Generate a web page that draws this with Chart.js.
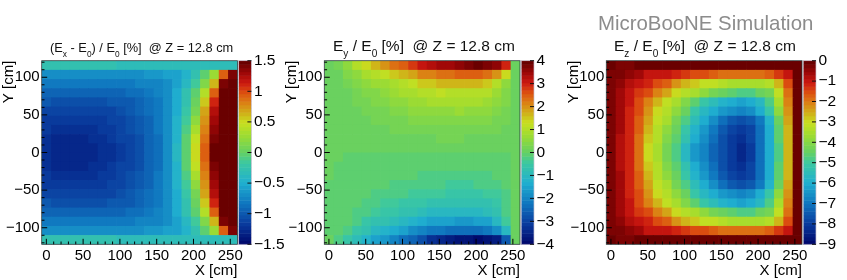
<!DOCTYPE html>
<html>
<head>
<meta charset="utf-8">
<title>E field distortions at Z = 12.8 cm</title>
<script src="https://cdn.jsdelivr.net/npm/chart.js@4"></script>
<style>
  html, body { margin: 0; padding: 0; background: #fff; }
  #page { position: relative; width: 847px; height: 280px; overflow: hidden; font-family: "Liberation Sans", sans-serif; filter: blur(0.35px); background: #fff; }
  canvas { position: absolute; top: 0; }
  .title { position: absolute; white-space: pre; color: #111; line-height: 1; }
  .title sub { line-height: 0; font-size: 65%; vertical-align: -0.6em; }
  #sim { position: absolute; left: 598px; top: 13px; font-size: 20.4px; color: #8c8c8c; white-space: pre; line-height: 1; }
</style>
</head>
<body>
<div id="page">
  <canvas id="ex" width="290" height="280" style="left:0"></canvas>
  <canvas id="ey" width="290" height="280" style="left:283px"></canvas>
  <canvas id="ez" width="290" height="280" style="left:565px"></canvas>
  <div class="title" style="left:50px;top:42px;font-size:12.8px">(E<sub>x</sub> - E<sub>0</sub>) / E<sub>0</sub> [%]  @ Z = 12.8 cm</div>
  <div class="title" style="left:333px;top:38px;font-size:15.5px">E<sub>y</sub> / E<sub>0</sub> [%]  @ Z = 12.8 cm</div>
  <div class="title" style="left:614px;top:38px;font-size:15.5px">E<sub>z</sub> / E<sub>0</sub> [%]  @ Z = 12.8 cm</div>
  <div id="sim">MicroBooNE Simulation</div>
</div>
<script>
// bin edges in cm
const xEdges = [-6.3, 6.4, 19, 31.7, 44.4, 57, 69.7, 82.4, 95, 107.7, 120.4, 133, 145.7, 158.4, 171, 183.7, 196.4, 209, 221.7, 234.4, 247, 259.7]
const yEdges = [122, 109.8, 97.6, 85.4, 73.2, 61, 48.8, 36.6, 24.4, 12.2, 0, -12.2, -24.4, -36.6, -48.8, -61, -73.2, -85.4, -97.6, -109.8, -122]

// palette, fraction of the z range -> colour
const paletteFractions = [0, 0.111, 0.222, 0.333, 0.444, 0.5, 0.556, 0.6, 0.667, 0.72, 0.778, 0.833, 0.889, 0.94, 1]
const paletteColors = ['#000a6e', '#0a3ea0', '#1078c0', '#20b0d0', '#3cc8a0', '#64d064', '#84d846', '#a0dc30', '#c8e020', '#d0b018', '#dc8014', '#dc5010', '#cc1810', '#a00808', '#6a0000']

const exTicks = [-1.5, -1, -0.5, 0, 0.5, 1, 1.5]
const eyTicks = [-4, -3, -2, -1, 0, 1, 2, 3, 4]
const ezTicks = [-9, -8, -7, -6, -5, -4, -3, -2, -1, 0]

// rows run from the top of the detector to the bottom
const exValues = [
  [-.3,-.3,-.3,-.3,-.3,-.3,-.3,-.3,-.31,-.31,-.31,-.32,-.33,-.34,-.35,-.35,-.34,-.33,-.32,-.31,-.31],
  [-.68,-.68,-.68,-.68,-.68,-.68,-.68,-.68,-.67,-.67,-.66,-.65,-.63,-.6,-.55,-.45,-.25,-.05,.25,.95,1.4],
  [-.8,-.82,-.82,-.82,-.82,-.82,-.81,-.8,-.8,-.79,-.78,-.76,-.73,-.68,-.6,-.42,-.15,.15,.65,1.4,1.5],
  [-.93,-.95,-.96,-.96,-.96,-.95,-.94,-.93,-.92,-.9,-.86,-.82,-.76,-.67,-.52,-.3,-.05,.4,.95,1.45,1.5],
  [-1.02,-1.04,-1.05,-1.05,-1.05,-1.04,-1.03,-1.02,-1,-.97,-.92,-.87,-.8,-.7,-.5,-.25,.05,.55,1.1,1.5,1.5],
  [-1.08,-1.12,-1.13,-1.13,-1.12,-1.11,-1.1,-1.08,-1.05,-1.01,-.96,-.9,-.82,-.7,-.5,-.2,.1,.68,1.2,1.5,1.5],
  [-1.15,-1.18,-1.19,-1.19,-1.18,-1.17,-1.15,-1.13,-1.09,-1.04,-.99,-.92,-.83,-.69,-.48,-.16,.22,.75,1.3,1.5,1.5],
  [-1.2,-1.23,-1.24,-1.24,-1.23,-1.22,-1.2,-1.17,-1.12,-1.07,-1.01,-.94,-.84,-.68,-.45,-.1,.32,.82,1.37,1.5,1.5],
  [-1.24,-1.27,-1.28,-1.28,-1.27,-1.25,-1.23,-1.2,-1.14,-1.09,-1.03,-.95,-.85,-.67,-.43,-.05,.42,.88,1.43,1.5,1.5],
  [-1.26,-1.29,-1.3,-1.3,-1.29,-1.27,-1.25,-1.22,-1.15,-1.1,-1.04,-.96,-.85,-.66,-.42,-.02,.48,.9,1.47,1.5,1.5],
  [-1.26,-1.29,-1.3,-1.3,-1.29,-1.27,-1.25,-1.22,-1.15,-1.1,-1.04,-.96,-.85,-.66,-.42,-.02,.48,.91,1.47,1.5,1.5],
  [-1.24,-1.27,-1.28,-1.28,-1.27,-1.25,-1.23,-1.2,-1.14,-1.09,-1.03,-.95,-.85,-.67,-.43,-.05,.43,.88,1.43,1.5,1.5],
  [-1.2,-1.23,-1.24,-1.24,-1.23,-1.22,-1.2,-1.17,-1.12,-1.07,-1.01,-.94,-.84,-.68,-.45,-.1,.33,.82,1.37,1.5,1.5],
  [-1.15,-1.18,-1.19,-1.19,-1.18,-1.17,-1.15,-1.13,-1.09,-1.04,-.99,-.92,-.83,-.69,-.48,-.16,.22,.75,1.3,1.5,1.5],
  [-1.08,-1.12,-1.13,-1.13,-1.12,-1.11,-1.1,-1.08,-1.05,-1.01,-.96,-.9,-.82,-.7,-.5,-.2,.1,.68,1.2,1.5,1.5],
  [-1.02,-1.04,-1.05,-1.05,-1.05,-1.04,-1.03,-1.02,-1,-.97,-.92,-.87,-.8,-.7,-.5,-.25,.05,.55,1.1,1.5,1.5],
  [-.93,-.95,-.96,-.96,-.96,-.95,-.94,-.93,-.92,-.9,-.86,-.82,-.76,-.67,-.52,-.3,-.05,.4,.95,1.45,1.5],
  [-.8,-.82,-.82,-.82,-.82,-.82,-.81,-.8,-.8,-.79,-.78,-.76,-.73,-.68,-.6,-.42,-.15,.15,.65,1.4,1.5],
  [-.68,-.68,-.68,-.68,-.68,-.68,-.68,-.68,-.67,-.67,-.66,-.65,-.63,-.6,-.55,-.45,-.25,-.05,.25,.95,1.4],
  [-.3,-.3,-.3,-.3,-.3,-.3,-.3,-.3,-.31,-.31,-.31,-.32,-.33,-.34,-.35,-.35,-.34,-.33,-.32,-.31,-.31],
]

const eyValues = [
  [0,.2,.6,1,1.4,1.7,2,2.3,2.55,2.8,3.05,3.2,3.4,3.5,3.65,3.8,3.9,3.8,3.55,2.9,.1],
  [.05,.15,.35,.6,.85,1.05,1.2,1.5,1.65,1.85,2.1,2.2,2.3,2.35,2.4,2.45,2.4,2.3,2.05,1.3,.1],
  [.05,.1,.2,.35,.5,.65,.75,.9,1.05,1.2,1.45,1.5,1.6,1.7,1.7,1.75,1.65,1.5,1.05,.55,.1],
  [.05,.08,.15,.25,.35,.45,.6,.7,.8,.9,1,1.1,1.15,1.1,1.1,1.1,1.1,1,.75,.4,.1],
  [.05,.07,.12,.2,.25,.33,.42,.5,.55,.65,.7,.8,.85,.9,.9,.9,.85,.75,.55,.35,.1],
  [.03,.05,.1,.15,.2,.25,.3,.38,.42,.48,.52,.55,.6,.62,.65,.62,.6,.52,.42,.25,.1],
  [.02,.05,.08,.1,.15,.2,.22,.25,.3,.33,.38,.4,.42,.45,.45,.45,.42,.38,.3,.2,.1],
  [.02,.03,.05,.08,.1,.12,.15,.18,.2,.22,.25,.28,.3,.3,.3,.3,.28,.25,.2,.15,.1],
  [0,.02,.03,.05,.06,.07,.08,.1,.12,.13,.15,.15,.16,.16,.16,.15,.15,.13,.1,.08,.1],
  [0,0,.01,.02,.02,.03,.03,.04,.04,.05,.05,.05,.05,.05,.05,.05,.05,.04,.03,.03,.1],
  [0,0,-.01,-.01,-.02,-.02,-.02,-.03,-.03,-.03,-.04,-.04,-.04,-.04,-.04,-.04,-.04,-.03,-.03,-.02,.1],
  [0,-.01,-.02,-.03,-.04,-.05,-.06,-.07,-.08,-.09,-.1,-.1,-.11,-.11,-.11,-.11,-.1,-.09,-.07,-.05,.1],
  [0,-.02,-.03,-.05,-.06,-.08,-.1,-.12,-.14,-.16,-.18,-.19,-.2,-.2,-.2,-.2,-.2,-.18,-.14,-.09,.1],
  [-.01,-.02,-.04,-.07,-.1,-.12,-.15,-.18,-.22,-.25,-.28,-.3,-.32,-.33,-.33,-.33,-.32,-.28,-.22,-.14,.1],
  [-.01,-.03,-.06,-.1,-.14,-.18,-.23,-.28,-.32,-.36,-.42,-.45,-.48,-.5,-.52,-.52,-.5,-.45,-.36,-.2,.1],
  [-.02,-.04,-.08,-.14,-.2,-.26,-.33,-.42,-.5,-.56,-.62,-.68,-.72,-.76,-.78,-.78,-.75,-.68,-.55,-.3,.1],
  [-.02,-.05,-.1,-.2,-.3,-.4,-.5,-.62,-.72,-.8,-.9,-.98,-1.02,-1.05,-1.08,-1.08,-1.03,-.95,-.75,-.3,.1],
  [-.02,-.07,-.15,-.3,-.5,-.65,-.8,-.95,-1.1,-1.2,-1.35,-1.45,-1.55,-1.6,-1.65,-1.65,-1.6,-1.5,-1.1,-.35,.1],
  [-.02,-.1,-.25,-.5,-.75,-1,-1.2,-1.4,-1.6,-1.8,-2,-2.1,-2.2,-2.3,-2.35,-2.35,-2.3,-2.2,-1.8,-1.1,.1],
  [0,-.2,-.55,-.9,-1.15,-1.45,-1.75,-2,-2.3,-2.55,-2.85,-3.2,-3.4,-3.55,-3.7,-3.8,-3.9,-3.8,-3.6,-2.7,.1],
]

const ezValues = [
  [-.15,-.2,-.2,-.15,-.15,-.15,-.15,-.1,-.1,-.1,-.1,-.1,-.1,-.1,-.1,-.1,-.1,-.1,-.15,-.15,-.15],
  [-.2,-.35,-.5,-.7,-.95,-1.05,-1,-1.1,-1.3,-1.45,-1.6,-1.8,-1.9,-1.95,-1.95,-1.95,-1.9,-1.75,-1.3,-.95,-.15],
  [-.2,-.5,-.8,-1,-1.25,-1.5,-1.8,-2.2,-2.55,-2.85,-3.1,-3.2,-3.35,-3.5,-3.55,-3.55,-3.5,-3.3,-2.55,-1.5,-.15],
  [-.2,-.6,-1,-1.3,-1.6,-2,-2.5,-3,-3.3,-3.6,-3.9,-4.2,-4.4,-4.6,-4.75,-4.7,-4.5,-4.2,-3.2,-1.9,-.15],
  [-.2,-.65,-1.05,-1.5,-2.1,-2.6,-3.2,-3.6,-4.1,-4.65,-5.1,-5.5,-5.9,-6.1,-6.15,-6,-5.6,-4.7,-3.5,-2.1,-.15],
  [-.2,-.7,-1.1,-1.6,-2.3,-2.9,-3.3,-3.85,-4.5,-5.05,-5.6,-6,-6.4,-6.65,-6.75,-6.6,-6.1,-5.2,-3.9,-2.3,-.15],
  [-.2,-.7,-1.15,-1.7,-2.5,-3.1,-3.6,-4.2,-4.85,-5.5,-6.05,-6.5,-7.1,-7.5,-7.65,-7.5,-7,-5.9,-4.4,-2.5,-.15],
  [-.2,-.72,-1.2,-1.8,-2.7,-3.25,-3.85,-4.45,-5.15,-5.85,-6.35,-6.85,-7.45,-7.85,-7.95,-7.8,-7.2,-6.05,-4.55,-2.55,-.15],
  [-.2,-.75,-1.25,-1.85,-2.85,-3.4,-4.05,-4.65,-5.4,-6.1,-6.6,-7.1,-7.6,-8,-8.15,-7.9,-7.2,-6.1,-4.65,-2.65,-.15],
  [-.2,-.75,-1.25,-1.9,-2.95,-3.5,-4.2,-4.8,-5.65,-6.35,-6.8,-7.3,-7.7,-8.1,-8.3,-7.95,-7.2,-6.1,-4.7,-2.7,-.15],
  [-.2,-.75,-1.25,-1.9,-2.95,-3.5,-4.2,-4.8,-5.65,-6.35,-6.8,-7.3,-7.7,-8.1,-8.3,-7.95,-7.2,-6.1,-4.7,-2.7,-.15],
  [-.2,-.75,-1.25,-1.85,-2.85,-3.4,-4.05,-4.65,-5.4,-6.1,-6.6,-7.1,-7.6,-8,-8.15,-7.9,-7.2,-6.1,-4.65,-2.65,-.15],
  [-.2,-.72,-1.2,-1.8,-2.7,-3.25,-3.85,-4.45,-5.15,-5.85,-6.35,-6.85,-7.45,-7.85,-7.95,-7.8,-7.2,-6.05,-4.55,-2.55,-.15],
  [-.2,-.7,-1.15,-1.7,-2.5,-3.1,-3.6,-4.2,-4.85,-5.5,-6.05,-6.5,-7.1,-7.5,-7.65,-7.5,-7,-5.9,-4.4,-2.5,-.15],
  [-.2,-.7,-1.1,-1.6,-2.3,-2.9,-3.3,-3.85,-4.5,-5.05,-5.6,-6,-6.4,-6.65,-6.75,-6.6,-6.1,-5.2,-3.9,-2.3,-.15],
  [-.2,-.65,-1.05,-1.5,-2.1,-2.6,-3.2,-3.6,-4.1,-4.65,-5.1,-5.5,-5.9,-6.1,-6.15,-6,-5.6,-4.7,-3.5,-2.1,-.15],
  [-.2,-.6,-1,-1.3,-1.6,-2,-2.5,-3,-3.3,-3.6,-3.9,-4.2,-4.4,-4.6,-4.75,-4.7,-4.5,-4.2,-3.2,-1.9,-.15],
  [-.2,-.5,-.8,-1,-1.25,-1.5,-1.8,-2.2,-2.55,-2.85,-3.1,-3.2,-3.35,-3.5,-3.55,-3.55,-3.5,-3.3,-2.55,-1.5,-.15],
  [-.2,-.35,-.5,-.7,-.95,-1.05,-1,-1.1,-1.3,-1.45,-1.6,-1.8,-1.9,-1.95,-1.95,-1.95,-1.9,-1.75,-1.3,-.95,-.15],
  [-.15,-.2,-.2,-.15,-.15,-.15,-.15,-.1,-.1,-.1,-.1,-.1,-.1,-.1,-.1,-.1,-.1,-.1,-.15,-.15,-.15],
]

const FONT = 'Liberation Sans'
const LEVELS = 50
const CANVAS_WIDTH = 290

function hexToRgb(h) {
  return [1, 3, 5].map(i => parseInt(h.slice(i, i + 2), 16))
}

// colour for a fraction of the z range, stepped like the ROOT palette
function paletteColor(frac) {
  const f = Math.min(Math.floor(frac * LEVELS), LEVELS - 1) / (LEVELS - 1)
  let i = 0
  while (i < paletteFractions.length - 2 && f > paletteFractions[i + 1]) i++
  const t = (f - paletteFractions[i]) / (paletteFractions[i + 1] - paletteFractions[i])
  const a = hexToRgb(paletteColors[i])
  const b = hexToRgb(paletteColors[i + 1])
  const c = a.map((v, k) => Math.round(v + (b[k] - v) * t))
  return `rgb(${c[0]},${c[1]},${c[2]})`
}

function minusText(v) {
  const r = Math.round(v * 10) / 10
  return r < 0 ? '\u2212' + Math.abs(r) : String(r)
}

// paints the cells and the palette through the chart's scales
const heatmapPlugin = {
  id: 'heatmap',
  beforeDatasetsDraw(chart) {
    const {ctx, chartArea, scales: {x, y, z}} = chart
    const values = chart.data.datasets[0].rows
    ctx.save()
    ctx.beginPath()
    ctx.rect(chartArea.left, chartArea.top, chartArea.width, chartArea.height)
    ctx.clip()
    values.forEach((row, j) => {
      row.forEach((v, i) => {
        const left = x.getPixelForValue(xEdges[i])
        const right = x.getPixelForValue(xEdges[i + 1])
        const top = y.getPixelForValue(yEdges[j])
        const bottom = y.getPixelForValue(yEdges[j + 1])
        ctx.fillStyle = paletteColor((v - z.min) / (z.max - z.min))
        // small overlap, the seams stay only very faint
        ctx.fillRect(left, top, right - left + 0.7, bottom - top + 0.7)
      })
    })
    ctx.restore()
  },
  afterDraw(chart) {
    const {ctx, chartArea, scales: {x, y, z}} = chart
    ctx.save()

    // palette bar
    const barLeft = z.left + 1.2
    const barWidth = 12.8
    for (let k = 0; k < LEVELS; k++) {
      const lo = z.min + (z.max - z.min) * k / LEVELS
      const hi = z.min + (z.max - z.min) * (k + 1) / LEVELS
      ctx.fillStyle = paletteColor((k + 0.5) / LEVELS)
      ctx.fillRect(barLeft, z.getPixelForValue(hi), barWidth, z.getPixelForValue(lo) - z.getPixelForValue(hi) + 0.5)
    }
    ctx.strokeStyle = '#c8c2d2'
    ctx.lineWidth = 0.7
    ctx.strokeRect(barLeft, z.top, barWidth, z.bottom - z.top)

    // palette ticks point inwards from the right edge
    ctx.strokeStyle = '#111'
    ctx.lineWidth = 1
    z.ticks.forEach(t => {
      const py = z.getPixelForValue(t.value)
      ctx.beginPath()
      ctx.moveTo(barLeft + barWidth, py)
      ctx.lineTo(barLeft + barWidth - 4, py)
      ctx.stroke()
    })

    // frame
    ctx.strokeStyle = '#2b3a3c'
    ctx.lineWidth = 0.8
    ctx.strokeRect(chartArea.left, chartArea.top, chartArea.width, chartArea.height)

    // inward ticks on the bottom and left only
    ctx.strokeStyle = '#000'
    ctx.lineWidth = 1
    x.ticks.forEach(t => {
      const px = x.getPixelForValue(t.value)
      const len = t.value % 50 === 0 ? 5.5 : 2.8
      ctx.beginPath()
      ctx.moveTo(px, chartArea.bottom)
      ctx.lineTo(px, chartArea.bottom - len)
      ctx.stroke()
    })
    y.ticks.forEach(t => {
      const py = y.getPixelForValue(t.value)
      const len = t.value % 50 === 0 ? 5.5 : 2.8
      ctx.beginPath()
      ctx.moveTo(chartArea.left, py)
      ctx.lineTo(chartArea.left + len, py)
      ctx.stroke()
    })
    ctx.restore()
  },
}

function drawPanel(id, rows, zTicks, leftWidth) {
  const points = []
  rows.forEach((row, j) => row.forEach((v, i) => {
    points.push({x: (xEdges[i] + xEdges[i + 1]) / 2, y: (yEdges[j] + yEdges[j + 1]) / 2, v})
  }))

  new Chart(document.getElementById(id), {
    type: 'scatter',
    data: {datasets: [{data: points, rows, pointRadius: 0, pointHoverRadius: 0}]},
    plugins: [heatmapPlugin],
    options: {
      responsive: false,
      animation: false,
      layout: {padding: {top: 60.7, left: 0, right: 0, bottom: 0}},
      plugins: {legend: {display: false}, tooltip: {enabled: false}, title: {display: false}},
      scales: {
        x: {
          type: 'linear',
          min: xEdges[0],
          max: xEdges[xEdges.length - 1],
          grid: {display: false, drawTicks: false},
          border: {display: false},
          ticks: {
            stepSize: 10,
            includeBounds: false,
            autoSkip: false,
            maxRotation: 0,
            minRotation: 0,
            padding: 3,
            color: '#000',
            font: {family: FONT, size: 15},
            callback: v => (v % 50 === 0 ? minusText(v) : ''),
          },
          title: {display: true, text: 'X [cm]', align: 'end', color: '#000', padding: 0, font: {family: FONT, size: 15}},
          afterFit(s) { s.height = 35.7 },
        },
        y: {
          type: 'linear',
          min: yEdges[yEdges.length - 1],
          max: yEdges[0],
          grid: {display: false, drawTicks: false},
          border: {display: false},
          ticks: {
            stepSize: 10,
            includeBounds: false,
            autoSkip: false,
            padding: 2,
            color: '#000',
            font: {family: FONT, size: 15},
            callback: v => (v % 50 === 0 ? minusText(v) : ''),
          },
          title: {display: true, text: 'Y [cm]', align: 'end', color: '#000', padding: 0, font: {family: FONT, size: 15}},
          afterFit(s) { s.width = leftWidth },
        },
        z: {
          type: 'linear',
          axis: 'y',
          position: 'right',
          min: zTicks[0],
          max: zTicks[zTicks.length - 1],
          grid: {display: false, drawTicks: false},
          border: {display: false},
          afterBuildTicks(s) { s.ticks = zTicks.map(value => ({value})) },
          ticks: {
            autoSkip: false,
            padding: 16.5,
            color: '#000',
            font: {family: FONT, size: 15.5},
            callback: v => minusText(v),
          },
          afterFit(s) { s.width = CANVAS_WIDTH - leftWidth - 195.7 },
        },
      },
    },
  })
}

drawPanel('ex', exValues, exTicks, 41.7)
drawPanel('ey', eyValues, eyTicks, 41.3)
drawPanel('ez', ezValues, ezTicks, 41.3)
</script>
</body>
</html>
